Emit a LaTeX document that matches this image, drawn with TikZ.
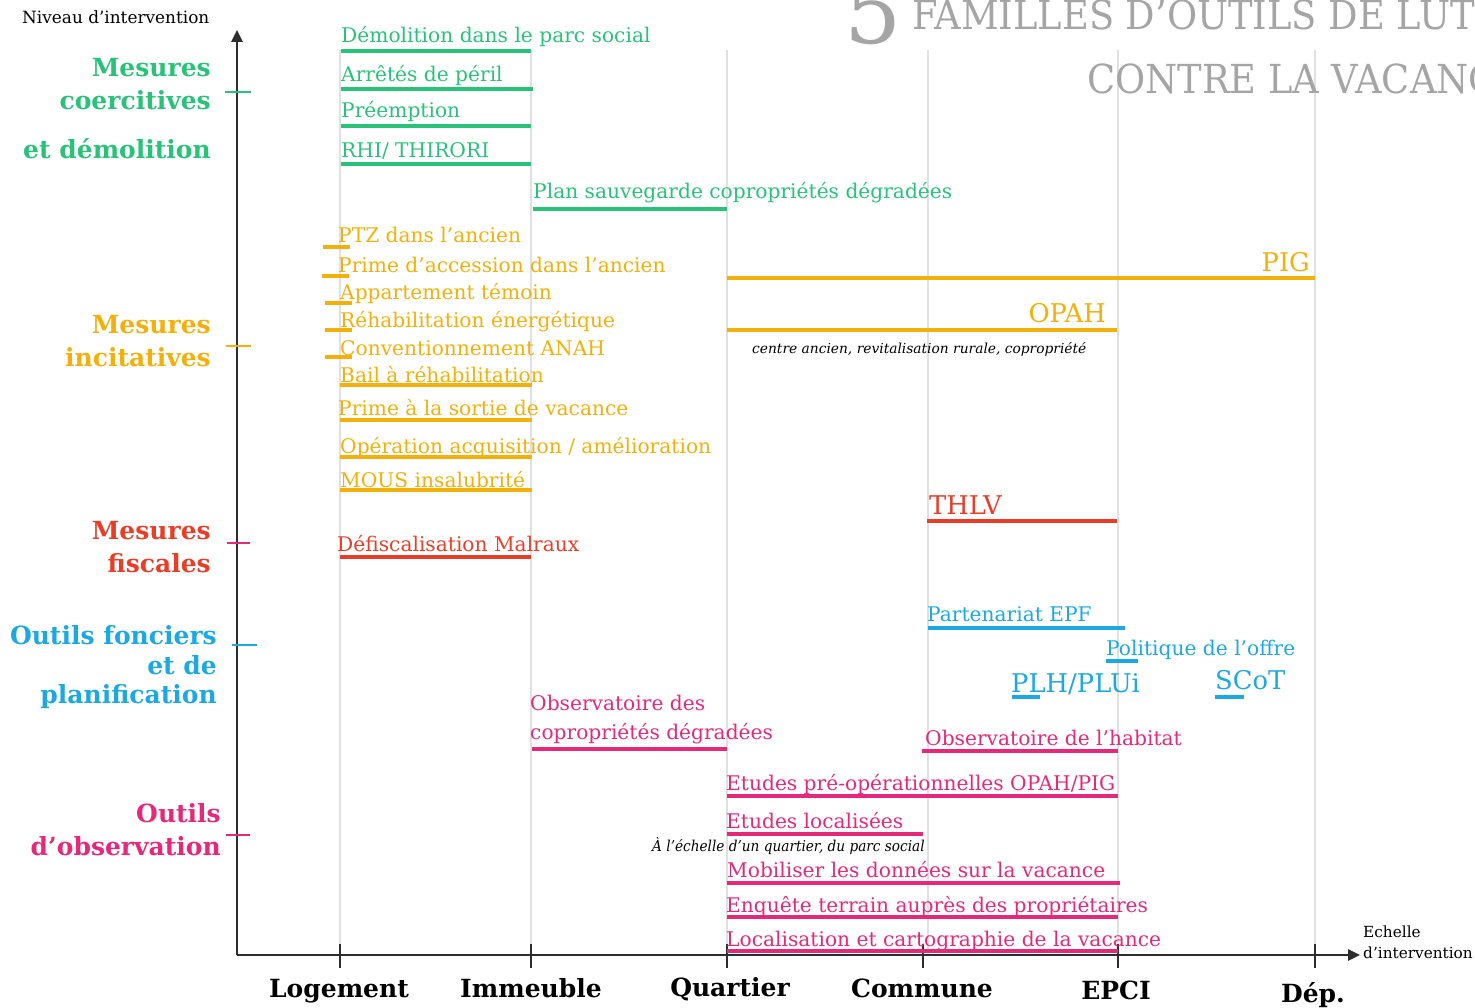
\documentclass[tikz,border=0pt]{standalone}
\usepackage{fontspec}
\setmainfont{DejaVu Serif}
\usetikzlibrary{arrows.meta}
\definecolor{cgreen}{RGB}{40,194,120}
\definecolor{corange}{RGB}{244,176,10}
\definecolor{cred}{RGB}{232,62,40}
\definecolor{cblue}{RGB}{28,168,226}
\definecolor{cpink}{RGB}{230,40,122}
\definecolor{cgrid}{RGB}{224,224,224}
\definecolor{caxis}{RGB}{45,45,45}
\definecolor{ctitle}{RGB}{165,165,165}
\newcommand\fitem{\fontsize{20.2}{23}\selectfont}
\newcommand\fbig{\fontsize{25.8}{29}\selectfont}
\newcommand\fcat{\fontsize{25}{28}\selectfont\bfseries}
\tikzset{
  itm/.style={anchor=base west, inner sep=0pt, font=\fitem},
  itmbig/.style={inner sep=0pt, font=\fbig},
  bar/.style={line width=4pt},
  gridline/.style={draw=cgrid, line width=1.5pt},
  cat/.style={anchor=base east, inner sep=0pt, font=\fcat},
  scale lbl/.style={anchor=base, inner sep=0pt, font=\fcat},
  note/.style={anchor=base west, inner sep=0pt, font=\fontsize{13.8}{16}\selectfont\itshape},
  ytick/.style={line width=2pt},
  ttl/.style={anchor=base west, inner sep=0pt, text=ctitle, font=\fontsize{40}{44}\selectfont, xscale=0.92},
}
\begin{document}
\begin{tikzpicture}[x=1pt,y=-1pt]
\useasboundingbox (0,0) rectangle (1475,1008);
\clip (0,0) rectangle (1475,1008);
% grid
\foreach \gx in {340,531,727,928,1118,1315}{
  \draw[gridline] (\gx,50) -- (\gx,955);
}
% title
\node[anchor=base west, inner sep=0pt, text=ctitle, font=\fontsize{90}{94}\selectfont] (five) at (844,44) {5};
\node[ttl] (t1) at (912,30) {FAMILLES D’OUTILS DE LUTTE};
\node[ttl] (t2) at (1087,94) {CONTRE LA VACANCE};
% axes
\coordinate (o) at (237,955);
\coordinate (ytop) at (237,30);
\coordinate (xend) at (1360,955);
\draw[caxis, line width=2.5pt, -{Triangle[length=12pt,width=11pt]}] (o) -- (ytop);
\draw[caxis, line width=2.5pt, -{Triangle[length=12pt,width=11pt]}] (o) -- (xend);
\foreach \gx in {340,531,727,923,1118,1315}{
  \draw[caxis, line width=2pt] (\gx,944) -- (\gx,968);
}
\node[anchor=base west, inner sep=0pt, font=\fontsize{16.9}{19}\selectfont] (ylab) at (22,24) {Niveau d’intervention};
\node[anchor=base west, inner sep=0pt, font=\fontsize{15.3}{17}\selectfont] (xlab1) at (1363,937) {Echelle};
\node[anchor=base west, inner sep=0pt, font=\fontsize{15.3}{17}\selectfont] (xlab2) at (1363,958) {d’intervention};
% scale labels
\node[scale lbl] (s1) at (339,997) {Logement};
\node[scale lbl] (s2) at (531,997) {Immeuble};
\node[scale lbl] (s3) at (730,996) {Quartier};
\node[scale lbl] (s4) at (922,997) {Commune};
\node[scale lbl] (s5) at (1116,999) {EPCI};
\node[scale lbl] (s6) at (1313,1002) {Dép.};
% y ticks
\draw[ytick, cgreen] (225,92) -- (251,92);
\draw[ytick, corange] (226,346) -- (251,346);
\draw[ytick, cpink] (227,543) -- (250,543);
\draw[ytick, cblue] (232,645) -- (257,645);
\draw[ytick, cpink] (226,835) -- (250,835);
% category labels
\node[cat, text=cgreen] (c1a) at (211,77) {Mesures};
\node[cat, text=cgreen] (c1b) at (211,110) {coercitives};
\node[cat, text=cgreen] (c1c) at (211,159) {et démolition};
\node[cat, text=corange] (c2a) at (211,334) {Mesures};
\node[cat, text=corange] (c2b) at (211,366) {incitatives};
\node[cat, text=cred] (c3a) at (211,539) {Mesures};
\node[cat, text=cred] (c3b) at (211,572) {fiscales};
\node[cat, text=cblue] (c4a) at (217,644) {Outils fonciers};
\node[cat, text=cblue] (c4b) at (217,674) {et de};
\node[cat, text=cblue] (c4c) at (217,703) {planification};
\node[cat, text=cpink] (c5a) at (221,822) {Outils};
\node[cat, text=cpink] (c5b) at (221,855) {d’observation};
% green items
\begin{scope}[cgreen]
\node[itm] (g1) at (341,43) {Démolition dans le parc social};
\draw[bar] (341,51) -- (531,51);
\node[itm] (g2) at (341,82) {Arrêtés de péril};
\draw[bar] (341,89) -- (533,89);
\node[itm] (g3) at (341,118) {Préemption};
\draw[bar] (341,126) -- (531,126);
\node[itm] (g4) at (341,158) {RHI/ THIRORI};
\draw[bar] (341,164) -- (531,164);
\node[itm] (g5) at (533,199) {Plan sauvegarde copropriétés dégradées};
\draw[bar] (533,209) -- (727,209);
\end{scope}
% orange items
\begin{scope}[corange]
\node[itm] (o1) at (338,243) {PTZ dans l’ancien};
\draw[bar] (323,247) -- (350,247);
\node[itm] (o2) at (338,273) {Prime d’accession dans l\char"0027ancien};
\draw[bar] (322,276) -- (349,276);
\node[itm] (o3) at (340,300) {Appartement témoin};
\draw[bar] (325,303) -- (352,303);
\node[itm] (o4) at (340,327) {Réhabilitation énergétique};
\draw[bar] (325,330) -- (352,330);
\node[itm] (o5) at (340,355) {Conventionnement ANAH};
\draw[bar] (325,357) -- (352,357);
\node[itm] (o6) at (340,382) {Bail à réhabilitation};
\draw[bar] (340,385) -- (532,385);
\node[itm] (o7) at (338,415) {Prime à la sortie de vacance};
\draw[bar] (340,420) -- (532,420);
\node[itm] (o8) at (340,453) {Opération acquisition / amélioration};
\draw[bar] (340,457) -- (532,457);
\node[itm] (o9) at (340,487) {MOUS insalubrité};
\draw[bar] (340,490) -- (532,490);
\node[itmbig, anchor=base east] (pig) at (1310,272) {PIG};
\draw[bar] (727,278) -- (1315,278);
\node[itmbig, anchor=base east] (opah) at (1106,323) {OPAH};
\draw[bar] (727,330) -- (1117,330);
\end{scope}
\node[note, text=black] (opahnote) at (752,353) {centre ancien, revitalisation rurale, copropriété};
% red items
\begin{scope}[cred]
\node[itmbig, anchor=base west] (thlv) at (929,514) {THLV};
\draw[bar] (927,521) -- (1117,521);
\node[itm] (r1) at (337,551) {Défiscalisation Malraux};
\draw[bar] (340,557) -- (531,557);
\end{scope}
% blue items
\begin{scope}[cblue]
\node[itm] (b1) at (927,621) {Partenariat EPF};
\draw[bar] (928,628) -- (1125,628);
\node[itm] (b2) at (1106,655) {Politique de l’offre};
\draw[bar] (1106,661) -- (1138,661);
\node[itmbig, anchor=base west] (plh) at (1011,692) {PLH/PLUi};
\draw[bar] (1012,697) -- (1040,697);
\node[itmbig, anchor=base west] (scot) at (1215,689) {SCoT};
\draw[bar] (1215,697) -- (1244,697);
\end{scope}
% pink items
\begin{scope}[cpink]
\node[itm] (p1a) at (530,710) {Observatoire des};
\node[itm] (p1b) at (530,739) {copropriétés dégradées};
\draw[bar] (532,749) -- (727,749);
\node[itm] (p2) at (925,745) {Observatoire de l’habitat};
\draw[bar] (922,751) -- (1118,751);
\node[itm] (p3) at (726,790) {Etudes pré-opérationnelles OPAH/PIG};
\draw[bar] (727,796) -- (1118,796);
\node[itm] (p4) at (726,828) {Etudes localisées};
\draw[bar] (727,834) -- (923,834);
\node[itm] (p5) at (727,877) {Mobiliser les données sur la vacance};
\draw[bar] (727,883) -- (1120,883);
\node[itm] (p6) at (726,912) {Enquête terrain auprès des propriétaires};
\draw[bar] (727,917) -- (1118,917);
\node[itm] (p7) at (726,946) {Localisation et cartographie de la vacance};
\draw[bar] (727,951) -- (1118,951);
\end{scope}
\node[note, text=black, font=\fontsize{15}{17}\selectfont\itshape] (locnote) at (652,851) {\scalebox{0.91}[1]{À l’échelle d’un quartier, du parc social}};
\end{tikzpicture}
\end{document}
